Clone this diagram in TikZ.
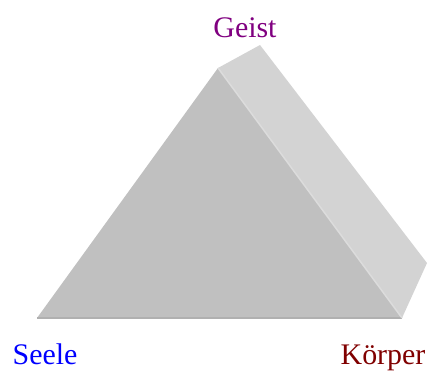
\documentclass[tikz,border=0pt]{standalone}
\usepackage{fontspec}
\setmainfont{Liberation Serif}
\begin{document}
\begin{tikzpicture}[x=1bp,y=-1bp,
  lbl/.style={anchor=base,inner sep=0pt,font=\fontsize{30}{30}\selectfont}]
\useasboundingbox (0,0) rectangle (429,372);
\definecolor{frontc}{HTML}{C0C0C0}
\definecolor{sidec}{HTML}{D3D3D3}
\definecolor{edgec}{HTML}{DCDCDC}
\definecolor{basec}{HTML}{B0B0B0}
\coordinate (A) at (218,68);
\coordinate (B) at (37,318);
\coordinate (C) at (402,318);
\coordinate (A2) at (260,45);
\coordinate (C2) at (427,263);
\fill[sidec] (A) -- (A2) -- (C2) -- (C) -- cycle;
\fill[frontc] (A) -- (B) -- (C) -- cycle;
\draw[basec,line width=2.5bp] (B) -- (C);
\draw[edgec,line width=1.5bp] (A) -- (C);
\node[lbl,text={rgb,255:red,128;green,0;blue,128}] (geist) at (245,37) {Geist};
\node[lbl,text=blue] (seele) at (45,364) {Seele};
\node[lbl,text={rgb,255:red,128;green,0;blue,0}] (koerper) at (383,364) {Körper};
\end{tikzpicture}
\end{document}
